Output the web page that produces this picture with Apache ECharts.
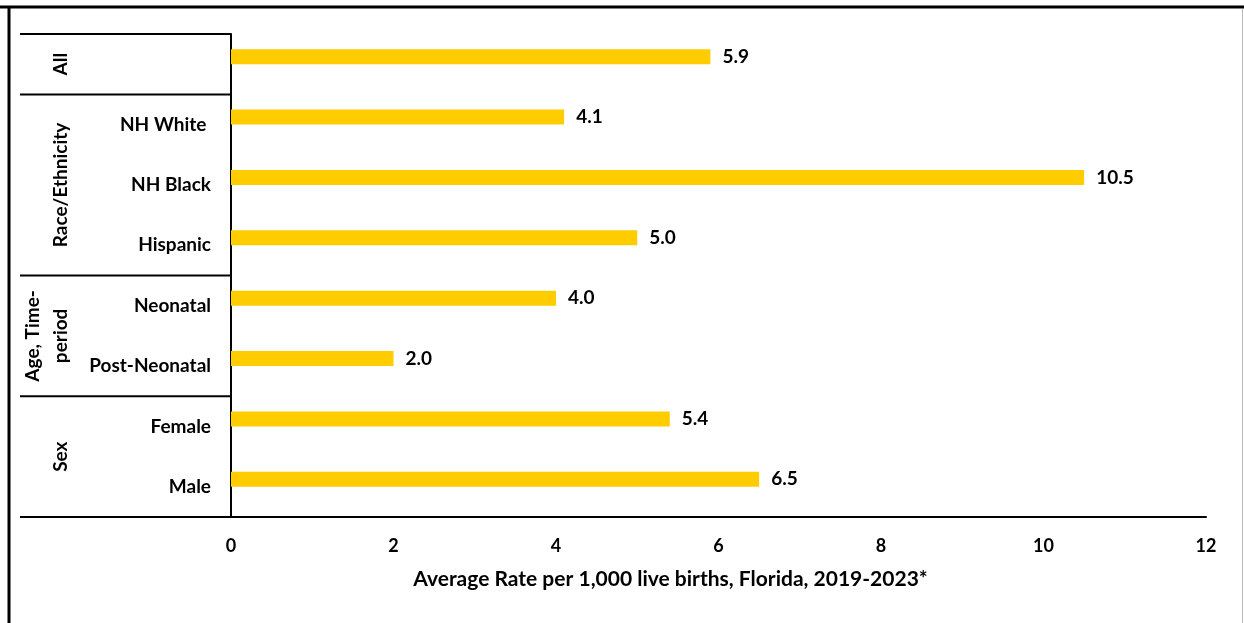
<!DOCTYPE html>
<html>
<head>
<meta charset="utf-8">
<script src="https://cdn.jsdelivr.net/npm/echarts@6/dist/echarts.min.js"></script>
<style>
  html, body { margin: 0; padding: 0; background: #fff; }
  #chart { width: 1244px; height: 623px; }
</style>
</head>
<body>
<div id="chart"></div>
<script>
// row labels (first row is the "All" group, it has no row label of its own)
const categories = ['', 'NH White ', 'NH Black', 'Hispanic', 'Neonatal', 'Post-Neonatal', 'Female', 'Male'];
const rates = [5.9, 4.1, 10.5, 5.0, 4.0, 2.0, 5.4, 6.5];
const groupNames = ['All', 'Race/Ethnicity', 'Age, Time-\nperiod', 'Sex'];
const groupSizes = [1, 3, 2, 2];
const xMin = 0, xMax = 12, xStep = 2;
const xTitle = 'Average Rate per 1,000 live births, Florida, 2019-2023*';

const FONT = 'Lato';
const chart = echarts.init(document.getElementById('chart'));

const grid = {left: 231, right: 38, top: 34, bottom: 106};

chart.setOption({
    animation: false,
    grid: grid,
    xAxis: {
        type: 'value',
        min: xMin, max: xMax, interval: xStep,
        splitLine: {show: false},
        axisLine: {show: true, lineStyle: {color: '#000', width: 2}},
        axisTick: {show: false},
        axisLabel: {margin: 20, color: '#000', fontFamily: FONT, fontWeight: 'bold', fontSize: 18},
        name: xTitle,
        nameLocation: 'middle',
        nameGap: 52,
        nameTextStyle: {color: '#000', fontFamily: FONT, fontWeight: 'bold', fontSize: 21, padding: [0, 96, 0, 0]}
    },
    yAxis: {
        type: 'category',
        inverse: true,
        data: categories,
        axisLine: {show: true, lineStyle: {color: '#000', width: 2}},
        axisTick: {show: false},
        axisLabel: {margin: 20, color: '#000', fontFamily: FONT, fontWeight: 'bold', fontSize: 19}
    },
    series: [{
        type: 'bar',
        data: rates,
        barWidth: 15,
        barGap: '0%',
        itemStyle: {color: '#FFCC00'},
        label: {
            show: true, position: 'right', distance: 12,
            formatter: (p) => p.value.toFixed(1),
            color: '#000', fontFamily: FONT, fontWeight: 'bold', fontSize: 19
        }
    }, {
        // empty companion series, as in the source workbook: it keeps the bars off-centre
        type: 'bar',
        data: categories.map(() => '-'),
        barWidth: 15,
        barGap: '0%'
    }]
});

// group table on the left, built from the category band positions
const band = (623 - grid.top - grid.bottom) / categories.length;
const tableLeft = 20;
const axisX = grid.left;
const graphics = [];
let row = 0;
groupNames.forEach((g, i) => {
    const yTop = chart.convertToPixel({yAxisIndex: 0}, row) - band / 2;
    const yBottom = yTop + band * groupSizes[i];
    const twoLines = g.indexOf('\n') >= 0;
    graphics.push({
        type: 'line', shape: {x1: tableLeft, y1: yTop, x2: axisX, y2: yTop},
        style: {stroke: '#000', lineWidth: 2}
    });
    graphics.push({
        type: 'text', x: twoLines ? 47 : 61, y: (yTop + yBottom) / 2, rotation: Math.PI / 2,
        style: {
            text: g, fill: '#000', font: 'bold 19px ' + FONT,
            align: 'center', verticalAlign: 'middle', lineHeight: 28
        }
    });
    row += groupSizes[i];
});
const yEnd = 623 - grid.bottom;
graphics.push({
    type: 'line', shape: {x1: tableLeft, y1: yEnd, x2: axisX, y2: yEnd},
    style: {stroke: '#000', lineWidth: 2}
});
// outer frame of the figure
graphics.push({type: 'line', shape: {x1: 0, y1: 7, x2: 1244, y2: 7}, style: {stroke: '#000', lineWidth: 3}});
graphics.push({type: 'line', shape: {x1: 9, y1: 7, x2: 9, y2: 623}, style: {stroke: '#000', lineWidth: 3}});
graphics.push({type: 'line', shape: {x1: 1242.5, y1: 9, x2: 1242.5, y2: 623}, style: {stroke: '#bbb', lineWidth: 1}});

chart.setOption({graphic: graphics});
</script>
</body>
</html>
